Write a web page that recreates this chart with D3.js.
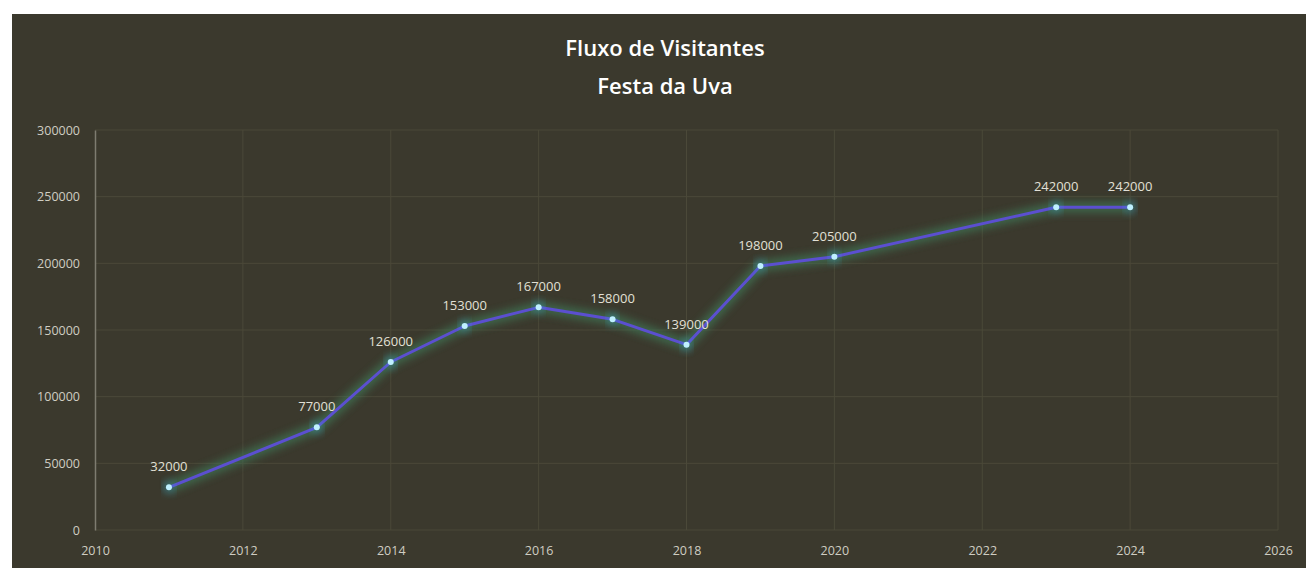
<!DOCTYPE html>
<html lang="pt">
  <head>
    <meta charset="UTF-8">
    <title>Fluxo de Visitantes - Festa da Uva</title>
    <script src="https://cdn.jsdelivr.net/npm/d3@7"></script>
    <style>
      html, body {
        margin: 0;
        padding: 0;
        background: #ffffff;
      }

      .grid line {
        stroke: #4b4939;
        stroke-width: 1;
      }

      .axis text {
        fill: #cfcdc2;
        font-family: "Open Sans", "DejaVu Sans", sans-serif;
        font-size: 12.5px;
      }

      .label {
        fill: #e2e0d6;
        font-family: "Open Sans", "DejaVu Sans", sans-serif;
        font-size: 13px;
        text-anchor: middle;
      }
    </style>
  </head>
  <body>
    <svg id="chart"></svg>

    <script>
      // Visitor counts per year
      var years = [2011, 2013, 2014, 2015, 2016, 2017, 2018, 2019, 2020, 2023, 2024];
      var visitors = [32000, 77000, 126000, 153000, 167000, 158000, 139000, 198000, 205000, 242000, 242000];

      var xTicks = [2010, 2012, 2014, 2016, 2018, 2020, 2022, 2024, 2026];
      var yTicks = [0, 50000, 100000, 150000, 200000, 250000, 300000];

      var titleLines = ["Fluxo de Visitantes", "Festa da Uva"];

      var width = 1310, height = 568;
      var margin = { top: 130, right: 32, bottom: 38, left: 95 };

      var points = years.map(function(y, i) { return { year: y, value: visitors[i] }; });

      var svg = d3.select("#chart")
        .attr("width", width)
        .attr("height", height);

      // Dark panel behind the whole chart
      svg.append("rect")
        .attr("x", 12)
        .attr("y", 14)
        .attr("width", width - 16)
        .attr("height", height - 14)
        .attr("fill", "#3b392d");

      var x = d3.scaleLinear()
        .domain([2010, 2026])
        .range([margin.left, width - margin.right]);

      var y = d3.scaleLinear()
        .domain([0, 300000])
        .range([height - margin.bottom, margin.top]);

      // Gridlines
      var grid = svg.append("g").attr("class", "grid");

      grid.selectAll(".h")
        .data(yTicks)
        .enter()
        .append("line")
        .attr("x1", x(2010))
        .attr("x2", x(2026))
        .attr("y1", function(d) { return y(d); })
        .attr("y2", function(d) { return y(d); });

      grid.selectAll(".v")
        .data(xTicks.slice(1))
        .enter()
        .append("line")
        .attr("x1", function(d) { return x(d); })
        .attr("x2", function(d) { return x(d); })
        .attr("y1", y(300000))
        .attr("y2", y(0));

      // Axes
      var yAxis = svg.append("g")
        .attr("class", "axis")
        .attr("transform", "translate(" + x(2010) + ",0)")
        .call(d3.axisLeft(y).tickValues(yTicks).tickFormat(d3.format("d")).tickSize(0).tickPadding(15));

      yAxis.select(".domain").attr("stroke", "#7e7c70").attr("stroke-width", 1.5);

      var xAxis = svg.append("g")
        .attr("class", "axis")
        .attr("transform", "translate(0," + y(0) + ")")
        .call(d3.axisBottom(x).tickValues(xTicks).tickFormat(d3.format("d")).tickSize(0).tickPadding(16));

      xAxis.select(".domain").remove();

      // Glowing line
      var defs = svg.append("defs");
      var glow = defs.append("filter")
        .attr("id", "glow")
        .attr("x", "-10%").attr("y", "-50%")
        .attr("width", "120%").attr("height", "200%");
      glow.append("feGaussianBlur").attr("stdDeviation", 4);

      var line = d3.line()
        .x(function(d) { return x(d.year); })
        .y(function(d) { return y(d.value); });

      svg.append("path")
        .datum(points)
        .attr("d", line)
        .attr("fill", "none")
        .attr("stroke", "#3f7a58")
        .attr("stroke-width", 10)
        .attr("stroke-linejoin", "round")
        .attr("opacity", 0.75)
        .attr("filter", "url(#glow)");

      svg.append("path")
        .datum(points)
        .attr("d", line)
        .attr("fill", "none")
        .attr("stroke", "#5b4fd0")
        .attr("stroke-width", 3)
        .attr("stroke-linejoin", "round");

      // Markers
      var marker = svg.selectAll(".marker")
        .data(points)
        .enter()
        .append("g")
        .attr("class", "marker")
        .attr("transform", function(d) { return "translate(" + x(d.year) + "," + y(d.value) + ")"; });

      marker.append("circle")
        .attr("r", 6)
        .attr("fill", "#3aa4c8")
        .attr("opacity", 0.5)
        .attr("filter", "url(#glow)");

      marker.append("circle")
        .attr("r", 3)
        .attr("fill", "#bff0ff");

      // Value labels
      svg.selectAll(".label")
        .data(points)
        .enter()
        .append("text")
        .attr("class", "label")
        .attr("x", function(d) { return x(d.year); })
        .attr("y", function(d) { return y(d.value) - 16; })
        .text(function(d) { return d.value; });

      // Title
      svg.append("text")
        .attr("x", 665)
        .attr("y", 56)
        .attr("text-anchor", "middle")
        .attr("fill", "#ffffff")
        .style("font-family", "'Open Sans', 'DejaVu Sans', sans-serif")
        .style("font-size", "22px")
        .style("font-weight", 600)
        .selectAll("tspan")
        .data(titleLines)
        .enter()
        .append("tspan")
        .attr("x", 665)
        .attr("dy", function(d, i) { return i === 0 ? 0 : 38; })
        .text(function(d) { return d; });
    </script>
  </body>
</html>
